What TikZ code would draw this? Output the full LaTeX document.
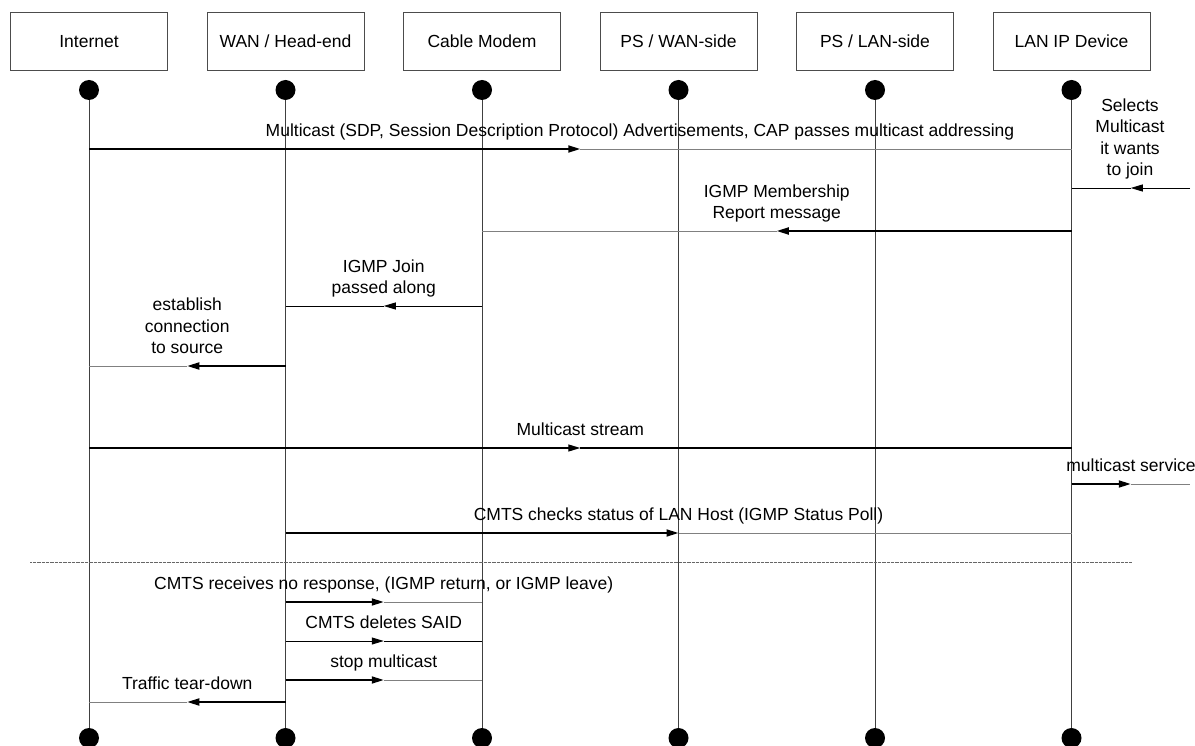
\documentclass[tikz,border=0pt]{standalone}
\usepackage{fontspec}
\setmainfont{Liberation Sans}
\usetikzlibrary{arrows.meta,calc}

\begin{document}
\begin{tikzpicture}[x=1pt,y=-1pt,
  txt/.style={font=\fontsize{17.5}{21.5}\selectfont},
  actor/.style={txt, draw=black!70, line width=0.8pt, minimum width=157pt,
    minimum height=58pt, inner sep=0pt, text height=12.6pt, text depth=0pt},
  lifedot/.style={circle, fill=black, minimum size=20pt, inner sep=0pt},
  life/.style={draw=black!75, line width=0.9pt},
  lbl/.style={txt, align=center, anchor=south, inner sep=0pt},
  tip/.style={-{Triangle[length=12pt,width=7pt]}},
  strong/.style={tip, draw=black, line width=1.8pt},
  plain/.style={tip, draw=black, line width=0.9pt},
  medium/.style={tip, draw=black, line width=1.3pt},
  faint/.style={draw=black!50, line width=0.9pt},
  plainrest/.style={draw=black, line width=0.9pt},
  mediumrest/.style={draw=black, line width=1.3pt},
  sepline/.style={draw=black!60, line width=0.6pt, dash pattern=on 0.8pt off 0.5pt},
]
\useasboundingbox (0,0) rectangle (1195,746);

% participants, their top and bottom markers, and lifelines
\node[actor] (b1) at (89,41)     {Internet};
\node[actor] (b2) at (285.5,41)  {WAN / Head-end};
\node[actor] (b3) at (482,41)    {Cable Modem};
\node[actor] (b4) at (678.5,41)  {PS / WAN-side};
\node[actor] (b5) at (875,41)    {PS / LAN-side};
\node[actor] (b6) at (1071.5,41) {LAN IP Device};

\foreach \i/\x in {1/89,2/285.5,3/482,4/678.5,5/875,6/1071.5}{
  \node[lifedot] (t\i) at (\x,90) {};
  \node[lifedot] (e\i) at (\x,738) {};
  \draw[life] (t\i) -- (e\i);
}

% message end points on the lifelines
\coordinate (m1s) at (t1 |- 0,149);  \coordinate (m1e) at (t6 |- 0,149);
\coordinate (m2s) at (1190,188);     \coordinate (m2e) at (t6 |- 0,188);
\coordinate (m3s) at (t6 |- 0,231);  \coordinate (m3e) at (t3 |- 0,231);
\coordinate (m4s) at (t3 |- 0,306);  \coordinate (m4e) at (t2 |- 0,306);
\coordinate (m5s) at (t2 |- 0,366);  \coordinate (m5e) at (t1 |- 0,366);
\coordinate (m6s) at (t1 |- 0,448);  \coordinate (m6e) at (t6 |- 0,448);
\coordinate (m7s) at (t6 |- 0,484);  \coordinate (m7e) at (1190,484);
\coordinate (m8s) at (t2 |- 0,533);  \coordinate (m8e) at (t6 |- 0,533);
\coordinate (m9s) at (t2 |- 0,602);  \coordinate (m9e) at (t3 |- 0,602);
\coordinate (m10s) at (t2 |- 0,641); \coordinate (m10e) at (t3 |- 0,641);
\coordinate (m11s) at (t2 |- 0,680); \coordinate (m11e) at (t3 |- 0,680);
\coordinate (m12s) at (t2 |- 0,702); \coordinate (m12e) at (t1 |- 0,702);
\foreach \k in {1,...,12}{
  \coordinate (m\k m) at ($(m\k s)!0.5!(m\k e)$);
}

% messages: the sending half carries the arrow head
\draw[faint] (m1m) -- (m1e);   \draw[strong] (m1s) -- (m1m);
\draw[plainrest] (m2m) -- (m2e); \draw[plain] (m2s) -- (m2m);
\draw[faint] (m3m) -- (m3e);   \draw[strong] (m3s) -- (m3m);
\draw[plainrest] (m4m) -- (m4e); \draw[plain] (m4s) -- (m4m);
\draw[faint] (m5m) -- (m5e);   \draw[strong] (m5s) -- (m5m);
\draw[mediumrest] (m6m) -- (m6e); \draw[medium] (m6s) -- (m6m);
\draw[faint] (m7m) -- (m7e);   \draw[strong] (m7s) -- (m7m);
\draw[faint] (m8m) -- (m8e);   \draw[strong] (m8s) -- (m8m);
\draw[faint] (m9m) -- (m9e);   \draw[strong] (m9s) -- (m9m);
\draw[plainrest] (m10m) -- (m10e); \draw[plain] (m10s) -- (m10m);
\draw[faint] (m11m) -- (m11e); \draw[strong] (m11s) -- (m11m);
\draw[faint] (m12m) -- (m12e); \draw[strong] (m12s) -- (m12m);

% message labels
\node[lbl] (l1) at (640,143.35) {Multicast (SDP, Session Description Protocol) Advertisements, CAP passes multicast addressing\strut};
\node[lbl] (l2) at (1130,182.35) {Selects\\Multicast\\it wants\\to join\strut};
\node[lbl] (l3) at (m3m |- 0,225.35) {IGMP Membership\\Report message\strut};
\node[lbl] (l4) at (m4m |- 0,300.35) {IGMP Join\\passed along\strut};
\node[lbl] (l5) at (m5m |- 0,360.35) {establish\\connection\\to source\strut};
\node[lbl] (l6) at (m6m |- 0,442.35) {Multicast stream\strut};
\node[lbl] (l7) at (1131,478.35) {multicast service\strut};
\node[lbl] (l8) at (m8m |- 0,527.35) {CMTS checks status of LAN Host (IGMP Status Poll)\strut};
\node[lbl] (l9) at (m9m |- 0,596.35) {CMTS receives no response, (IGMP return, or IGMP leave)\strut};
\node[lbl] (l10) at (m10m |- 0,635.35) {CMTS deletes SAID\strut};
\node[lbl] (l11) at (m11m |- 0,674.35) {stop multicast\strut};
\node[lbl] (l12) at (m12m |- 0,696.35) {Traffic tear-down\strut};

% separator between the session and its tear-down
\coordinate (sepA) at (30,562);
\coordinate (sepB) at (1132,562);
\draw[sepline] (sepA) -- (sepB);
\end{tikzpicture}
\end{document}
